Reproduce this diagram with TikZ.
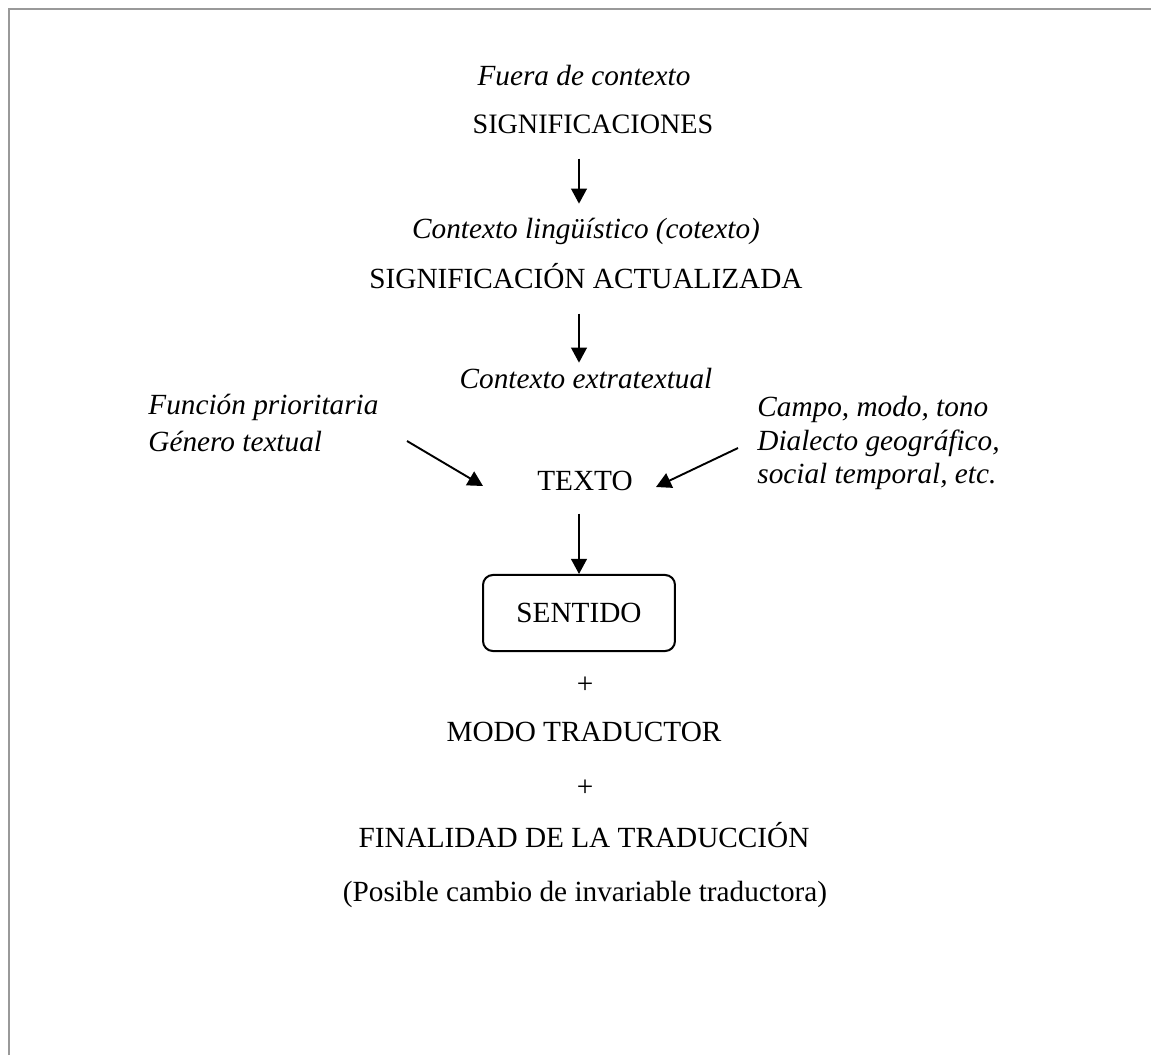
\documentclass[tikz,border=0pt]{standalone}
\usepackage{fontspec}
\setmainfont{Liberation Serif}
\usetikzlibrary{arrows.meta,positioning}
\definecolor{framegray}{RGB}{153,153,153}

\begin{document}
\begin{tikzpicture}[x=0.4444pt,y=-0.4444pt,>={Triangle[length=6.7pt,width=7pt]},
 txt/.style={inner sep=0pt,text height=9.2pt,text depth=2.7pt,font=\fontsize{13}{15.6}\selectfont},
 ctx/.style={txt,font=\fontsize{13}{15.6}\selectfont\itshape},
 side/.style={inner sep=0pt,align=left,anchor=west,font=\fontsize{13}{#1}\selectfont\itshape},
 arr/.style={->,line width=0.85pt},
 sensebox/.style={draw,line width=0.9pt,rounded corners=4.4pt,minimum width=85.3pt,minimum height=33.8pt,font=\fontsize{13}{15.6}\selectfont}]
\useasboundingbox (0,0) rectangle (1151,1055);
\draw[line width=0.8pt,framegray] (9,1055) -- (9,9) -- (1151,9);

\node[ctx] (fuera) at (584,78) {Fuera de contexto};
\node[txt,font=\fontsize{12.5}{15}\selectfont] (signif) at (593,126) {SIGNIFICACIONES};
\node[ctx] (ling) at (586,231) {Contexto lingüístico (cotexto)};
\node[txt] (actual) at (586,281) {SIGNIFICACIÓN ACTUALIZADA};
\node[ctx] (extra) at (586,381) {Contexto extratextual};
\node[side=16.3pt] (funcion) at (148,423) {Función prioritaria\\Género textual};
\node[side=14.9pt] (campo) at (757,443) {Campo, modo, tono\\Dialecto geográfico,\\social temporal, etc.};
\node[txt] (texto) at (585,483) {TEXTO};
\node[sensebox] (sentido) at (579,613) {SENTIDO};
\node[txt] (plus1) at (585,686) {+};
\node[txt] (modo) at (584,734) {MODO TRADUCTOR};
\node[txt] (plus2) at (585,789) {+};
\node[txt] (finalidad) at (584,840) {FINALIDAD DE LA TRADUCCIÓN};
\node[txt] (posible) at (585,894) {(Posible cambio de invariable traductora)};

\coordinate (lfrom) at (407,441);
\coordinate (lto) at (483,486);
\coordinate (rfrom) at (738,448);
\coordinate (rto) at (656,487);

\draw[arr,shorten <=8.3pt,shorten >=6pt] (signif.south -| sentido) -- (ling.north -| sentido);
\draw[arr,shorten <=8.3pt,shorten >=2pt] (actual.south -| sentido) -- (extra.north -| sentido);
\draw[arr] (lfrom) -- (lto);
\draw[arr] (rfrom) -- (rto);
\draw[arr,shorten <=7.4pt] (texto.south -| sentido) -- (sentido.north);
\end{tikzpicture}
\end{document}
